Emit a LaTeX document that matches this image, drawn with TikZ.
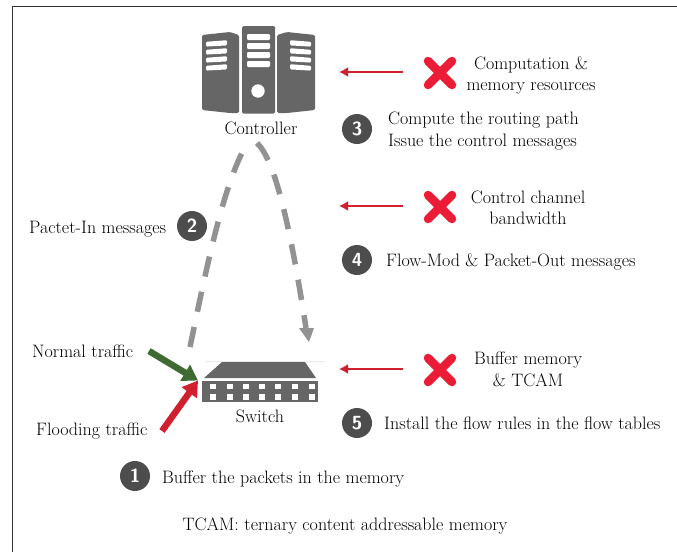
\documentclass[tikz,border=0pt]{standalone}
\usepackage{fontspec}
\setmainfont{Latin Modern Roman}
\usetikzlibrary{arrows.meta}
\definecolor{dark}{HTML}{666666}
\definecolor{badge}{HTML}{4D4D4D}
\definecolor{flow}{HTML}{929292}
\definecolor{redarrow}{HTML}{D02030}
\definecolor{crossred}{HTML}{EA1C36}
\definecolor{greenarrow}{HTML}{3F6B32}
\tikzset{
  x=1pt,y=-1pt,
  txt/.style={font=\fontsize{18}{21.5}\selectfont,inner sep=0pt,text=black},
  lefttxt/.style={txt,anchor=west,align=left},
  midtxt/.style={txt,anchor=center,align=center},
  badgenode/.style={circle,fill=badge,text=white,minimum size=30pt,inner sep=0pt,font=\fontsize{19}{19}\sffamily\bfseries},
  limit/.style={draw=redarrow,line width=2.6pt,-{Latex[length=9pt,width=10pt]}},
  flowline/.style={draw=flow,line width=5.5pt,dash pattern=on 20.5pt off 15.5pt},
  thick arrow/.style={line width=6.5pt,-{Triangle[length=15pt,width=18pt]}},
  crossbar/.style={draw=crossred,line width=8.5pt,line cap=round},
  slat/.style={fill=white,rounded corners=1.2pt},
}
\newcommand{\crossmark}[1]{%
  \draw[crossbar] (#1)++(-12,-12) -- ++(24,24);
  \draw[crossbar] (#1)++(12,-12) -- ++(-24,24);
}
\begin{document}
\begin{tikzpicture}
\useasboundingbox (0,0) rectangle (677,552);
\fill[white] (0,0) rectangle (677,552);
\draw[line width=1pt,black!80] (12.5,552) -- (12.5,6.5) -- (677,6.5);

% controller icon
\fill[dark,rounded corners=1.5pt] (202,35) -- (230,32) -- (239,35) -- (239,113) -- (230,113) -- (202,110) -- cycle;
\fill[dark,rounded corners=1.5pt] (242,26) rectangle (275,113.5);
\fill[dark,rounded corners=1.5pt] (277,35) -- (287,32) -- (315,35) -- (315,110) -- (287,113) -- (277,113) -- cycle;
\foreach \y in {34,43,52,61} \fill[slat] (247,\y) rectangle (270,\y+6);
\foreach \a in {41,49,57,65}{
  \fill[slat] (206,\a+.8) -- (227,\a-.8) -- (227,\a+4.4) -- (206,\a+5.6) -- cycle;
  \fill[slat] (290,\a-.8) -- (311,\a+.8) -- (311,\a+5.6) -- (290,\a+4.4) -- cycle;
}
\fill[white] (258,91) circle (6.7);
\node[midtxt] (controller) at (261,128) {Controller};

% switch icon
\draw[black!8,line width=1pt] (205,361.5) -- (325,361.5);
\fill[dark] (204,378) -- (222,362) -- (305,362) -- (316,378) -- cycle;
\fill[dark] (202,381) rectangle (318,401.5);
\foreach \x in {213,230,246,262,278,295,312}
  \foreach \y in {386.2,396.8} \fill[white] (\x-3,\y-2.7) rectangle (\x+3,\y+2.7);
\node[midtxt] (switch) at (260,416) {Switch};

% flows
\coordinate (upstart) at (190,347);
\coordinate (upend) at (244,149);
\coordinate (downstart) at (257,143);
\coordinate (downend) at (309,342);
\draw[flowline] (upstart) .. controls (205,275) and (222,190) .. (upend);
\draw[flowline] (downstart) .. controls (275,160) and (290,225) .. (306,328);
\fill[flow] (299,328) -- (314,328) -- (downend) -- cycle;

% traffic
\node[lefttxt] (normal) at (32,351) {Normal traffic};
\node[lefttxt] (flooding) at (36,431.5) {Flooding traffic};
\coordinate (normalstart) at (149,351);
\coordinate (floodstart) at (162,431);
\coordinate (hit) at (198,380.5);
\draw[thick arrow,draw=greenarrow,color=greenarrow] (normalstart) -- (hit);
\draw[thick arrow,draw=redarrow,color=redarrow] (floodstart) -- (hit);

% limits
\coordinate (c1a) at (403,72); \coordinate (c1b) at (339,72);
\coordinate (c2a) at (403,206); \coordinate (c2b) at (339,206);
\coordinate (c3a) at (403,369); \coordinate (c3b) at (339,369);
\draw[limit] (c1a) -- (c1b);
\draw[limit] (c2a) -- (c2b);
\draw[limit] (c3a) -- (c3b);
\crossmark{440,73}
\crossmark{440,207}
\crossmark{440,370}
\node[midtxt] (res1) at (531,75.5) {Computation \&\\memory resources};
\node[midtxt] (res2) at (528,208) {Control channel\\bandwidth};
\node[midtxt] (res3) at (528,369.5) {Buffer memory\\\& TCAM};

% steps
\node[badgenode] (b1) at (135,476) {1};
\node[badgenode] (b2) at (192,226) {2};
\node[badgenode] (b3) at (357,129) {3};
\node[badgenode] (b4) at (357,260) {4};
\node[badgenode] (b5) at (357,423) {5};
\node[lefttxt] (s1) at (162,478.5) {Buffer the packets in the memory};
\node[lefttxt] (s2) at (29,229.5) {Pactet-In messages};
\node[lefttxt] (s3) at (388,131) {Compute the routing path\\Issue the control messages};
\node[lefttxt] (s4) at (386,261.5) {Flow-Mod \& Packet-Out messages};
\node[lefttxt] (s5) at (384,423.5) {Install the flow rules in the flow tables};
\node[midtxt] (note) at (345,525.5) {TCAM: ternary content addressable memory};
\end{tikzpicture}
\end{document}
